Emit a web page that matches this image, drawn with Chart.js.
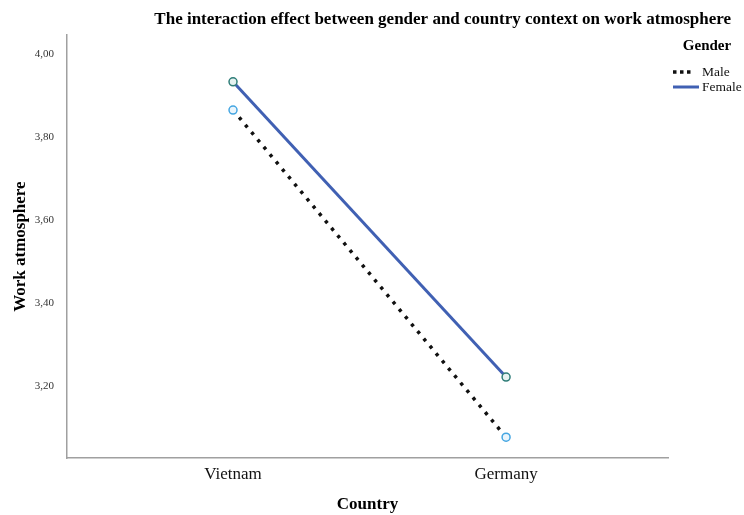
<!DOCTYPE html>
<html>
<head>
<meta charset="utf-8">
<script src="https://cdn.jsdelivr.net/npm/chart.js@4/dist/chart.umd.min.js"></script>
<style>
  html, body { margin: 0; padding: 0; background: #fff; }
  #wrap { width: 744px; height: 515px; }
</style>
</head>
<body>
<div id="wrap"><canvas id="c" width="744" height="515"></canvas></div>
<script>
// Estimated marginal means of work atmosphere by country and gender
const countries = ['Vietnam', 'Germany'];
const maleMeans = [3.865, 3.076];
const femaleMeans = [3.933, 3.221];
const yTicks = [3.2, 3.4, 3.6, 3.8, 4.0];

const chartTitle = 'The interaction effect between gender and country context on work atmosphere';
const legendTitle = 'Gender';

const serif = '"Liberation Serif", "Times New Roman", serif';

const toPoints = (vals) => vals.map((v, i) => ({ x: i, y: v }));

const datasets = [
  {
    label: 'Male',
    data: toPoints(maleMeans),
    borderColor: '#111111',
    borderWidth: 3.5,
    borderDash: [3.3, 6.3],
    pointRadius: 4,
    pointBorderWidth: 1.5,
    pointBorderColor: '#45a6e2',
    pointBackgroundColor: '#eaf5fc',
    legendDash: [3.5, 3.5]
  },
  {
    label: 'Female',
    data: toPoints(femaleMeans),
    borderColor: '#4060b3',
    borderWidth: 3,
    pointRadius: 4,
    pointBorderWidth: 1.5,
    pointBorderColor: '#2f7d78',
    pointBackgroundColor: '#e6f2f1',
    legendDash: []
  }
];

// Heading and the gender key, drawn in the free margins around the plot
const annotations = {
  id: 'annotations',
  afterDraw(chart) {
    const ctx = chart.ctx;
    ctx.save();
    ctx.fillStyle = '#000';
    ctx.font = 'bold 17px ' + serif;
    ctx.textAlign = 'right';
    ctx.textBaseline = 'alphabetic';
    ctx.fillText(chartTitle, 731, 24);

    ctx.font = 'bold 15px ' + serif;
    ctx.textAlign = 'center';
    ctx.textBaseline = 'middle';
    ctx.fillText(legendTitle, 707, 46);

    chart.data.datasets.forEach((ds, i) => {
      const y = 72 + i * 15;
      ctx.strokeStyle = ds.borderColor;
      ctx.lineWidth = ds.borderWidth;
      ctx.setLineDash(ds.legendDash);
      ctx.beginPath();
      ctx.moveTo(673, y);
      ctx.lineTo(ds.legendDash.length ? 694 : 699, y);
      ctx.stroke();
      ctx.setLineDash([]);
      ctx.fillStyle = '#111';
      ctx.font = '13.5px ' + serif;
      ctx.textAlign = 'left';
      ctx.fillText(ds.label, 702, y);
    });
    ctx.restore();
  }
};

new Chart(document.getElementById('c'), {
  type: 'line',
  data: { datasets },
  plugins: [annotations],
  options: {
    responsive: false,
    animation: false,
    layout: { padding: { top: 35, right: 76, bottom: 0, left: 9 } },
    plugins: {
      tooltip: { enabled: false },
      title: { display: false },
      legend: { display: false }
    },
    scales: {
      x: {
        type: 'linear',
        min: -0.608,
        max: 1.593,
        afterBuildTicks: (axis) => { axis.ticks = countries.map((_, i) => ({ value: i })); },
        ticks: {
          callback: (v) => countries[v],
          color: '#111',
          font: { family: serif, size: 17 },
          padding: 6
        },
        grid: { display: false, drawTicks: false },
        border: { display: true, color: '#a0a0a0', width: 1.5 },
        title: {
          display: true,
          text: 'Country',
          color: '#000',
          font: { family: serif, size: 17, weight: 'bold' },
          padding: { top: 4, bottom: 0 }
        }
      },
      y: {
        min: 3.0254,
        max: 4.046,
        afterBuildTicks: (axis) => { axis.ticks = yTicks.map((v) => ({ value: v })); },
        afterFit: (axis) => { axis.width = 58; },
        ticks: {
          callback: (v) => v.toFixed(2).replace('.', ','),
          color: '#333',
          font: { family: serif, size: 11 },
          padding: 13
        },
        grid: { display: false, drawTicks: false },
        border: { display: true, color: '#a0a0a0', width: 1.5 },
        title: {
          display: true,
          text: 'Work atmosphere',
          color: '#000',
          font: { family: serif, size: 17, weight: 'bold' },
          padding: { top: 1, bottom: 0 }
        }
      }
    }
  }
});
</script>
</body>
</html>
